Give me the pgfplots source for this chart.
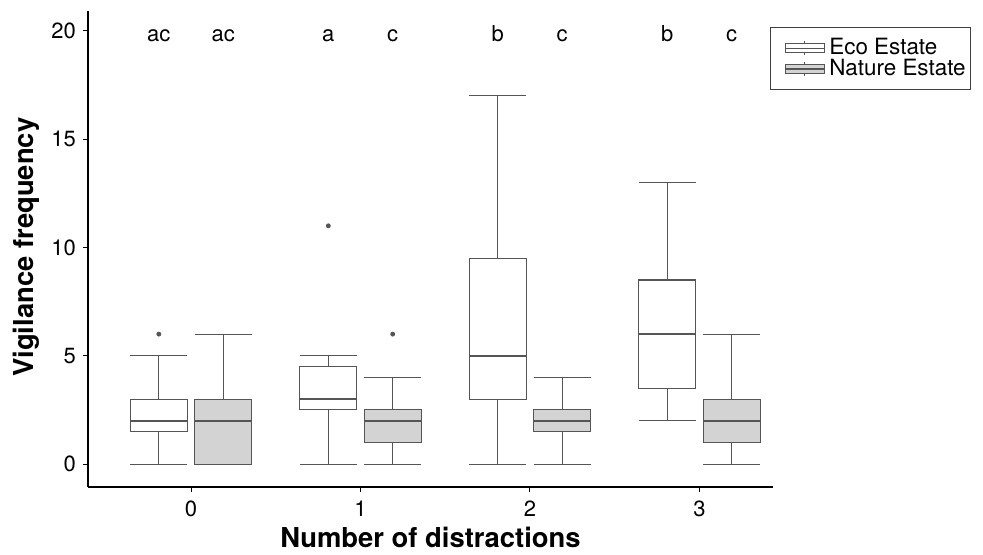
\documentclass[border=0pt]{standalone}
\usepackage{pgfplots}
\pgfplotsset{compat=1.18}
\usepgfplotslibrary{statistics}
\usepackage{fontspec}
\setmainfont{TeX Gyre Heros}
\definecolor{boxline}{RGB}{85,85,85}
\definecolor{natfill}{RGB}{210,211,210}
\begin{document}
\begin{tikzpicture}
\useasboundingbox (0,0) rectangle (491.5pt,277pt);
\begin{axis}[
  at={(44pt,33.5pt)}, anchor=south west,
  scale only axis, width=342.5pt, height=238pt,
  xmin=-0.608, xmax=3.434, ymin=-1.06, ymax=20.92,
  axis x line*=bottom, axis y line*=left,
  axis line style={black, line width=0.6pt, -},
  xtick={0,1,2,3}, ytick={0,5,10,15,20},
  tick align=outside, major tick length=2.5pt,
  tick style={black, line width=0.5pt},
  ticklabel style={font=\fontsize{11}{12}\selectfont},
  xticklabel style={yshift=-1pt},
  /pgf/number format/assume math mode=true,
  xlabel={\textbf{Number of distractions}},
  ylabel={\textbf{Vigilance frequency}},
  label style={font=\fontsize{13.7}{15}\selectfont},
  xlabel style={at={(axis description cs:0.5,-0.128)}, anchor=base},
  ylabel style={at={(axis description cs:-0.0905,0.504)}, anchor=center},
  boxplot/draw direction=y,
  boxplot/every median/.style={line width=1.1pt},
  legend style={at={(axis description cs:0.9956,0.966)}, anchor=north west,
    draw=black!75, line width=0.5pt, font=\fontsize{11.2}{12}\selectfont,
    inner xsep=2pt, inner ysep=5pt, row sep=0pt, column sep=2pt,
    nodes={inner sep=0.4pt}},
  legend cell align=left,
]
% Eco Estate
\addplot[forget plot, draw=boxline, fill=white, line width=0.55pt, boxplot prepared={draw position=-0.19, lower whisker=0, lower quartile=1.5, median=2, upper quartile=3, upper whisker=5, box extend=0.337, whisker extend=0.337}] coordinates {};
\addplot[forget plot, draw=boxline, fill=white, line width=0.55pt, boxplot prepared={draw position=0.81, lower whisker=0, lower quartile=2.5, median=3, upper quartile=4.5, upper whisker=5, box extend=0.337, whisker extend=0.337}] coordinates {};
\addplot[forget plot, draw=boxline, fill=white, line width=0.55pt, boxplot prepared={draw position=1.81, lower whisker=0, lower quartile=3, median=5, upper quartile=9.5, upper whisker=17, box extend=0.337, whisker extend=0.337}] coordinates {};
\addplot[forget plot, draw=boxline, fill=white, line width=0.55pt, boxplot prepared={draw position=2.81, lower whisker=2, lower quartile=3.5, median=6, upper quartile=8.5, upper whisker=13, box extend=0.337, whisker extend=0.337}] coordinates {};
% Nature Estate
\addplot[forget plot, draw=boxline, fill=natfill, line width=0.55pt, boxplot prepared={draw position=0.19, lower whisker=0, lower quartile=0, median=2, upper quartile=3, upper whisker=6, box extend=0.337, whisker extend=0.337}] coordinates {};
\addplot[forget plot, draw=boxline, fill=natfill, line width=0.55pt, boxplot prepared={draw position=1.19, lower whisker=0, lower quartile=1, median=2, upper quartile=2.5, upper whisker=4, box extend=0.337, whisker extend=0.337}] coordinates {};
\addplot[forget plot, draw=boxline, fill=natfill, line width=0.55pt, boxplot prepared={draw position=2.19, lower whisker=0, lower quartile=1.5, median=2, upper quartile=2.5, upper whisker=4, box extend=0.337, whisker extend=0.337}] coordinates {};
\addplot[forget plot, draw=boxline, fill=natfill, line width=0.55pt, boxplot prepared={draw position=3.19, lower whisker=0, lower quartile=1, median=2, upper quartile=3, upper whisker=6, box extend=0.337, whisker extend=0.337}] coordinates {};
% outliers
\addplot[forget plot, only marks, mark=*, mark size=1pt, boxline] coordinates {(-0.19,6) (0.81,11) (1.19,6)};
% legend
\addlegendimage{legend image code/.code={
  \path (-5pt,0pt);
  \draw[boxline, fill=white, line width=0.5pt] (0pt,-2.2pt) rectangle (19.5pt,2.2pt);
  \draw[boxline, line width=0.6pt] (0pt,0pt)--(19.5pt,0pt);
  \draw[boxline, line width=0.4pt] (9.75pt,2.2pt)--(9.75pt,3.6pt) (9.75pt,-2.2pt)--(9.75pt,-3.6pt);}}
\addlegendentry{Eco Estate}
\addlegendimage{legend image code/.code={
  \path (-5pt,0pt);
  \draw[boxline, fill=natfill, line width=0.5pt] (0pt,-2.2pt) rectangle (19.5pt,2.2pt);
  \draw[boxline, line width=0.6pt] (0pt,0pt)--(19.5pt,0pt);
  \draw[boxline, line width=0.4pt] (9.75pt,2.2pt)--(9.75pt,3.6pt) (9.75pt,-2.2pt)--(9.75pt,-3.6pt);}}
\addlegendentry{Nature Estate}
% significance letters
\begin{scope}[every node/.style={font=\fontsize{11}{12}\selectfont, anchor=base}]
\node at (axis cs:-0.19,19.5) {ac};
\node at (axis cs:0.19,19.5) {ac};
\node at (axis cs:0.81,19.5) {a};
\node at (axis cs:1.19,19.5) {c};
\node at (axis cs:1.81,19.5) {b};
\node at (axis cs:2.19,19.5) {c};
\node at (axis cs:2.81,19.5) {b};
\node at (axis cs:3.19,19.5) {c};
\end{scope}
\end{axis}
\end{tikzpicture}
\end{document}
